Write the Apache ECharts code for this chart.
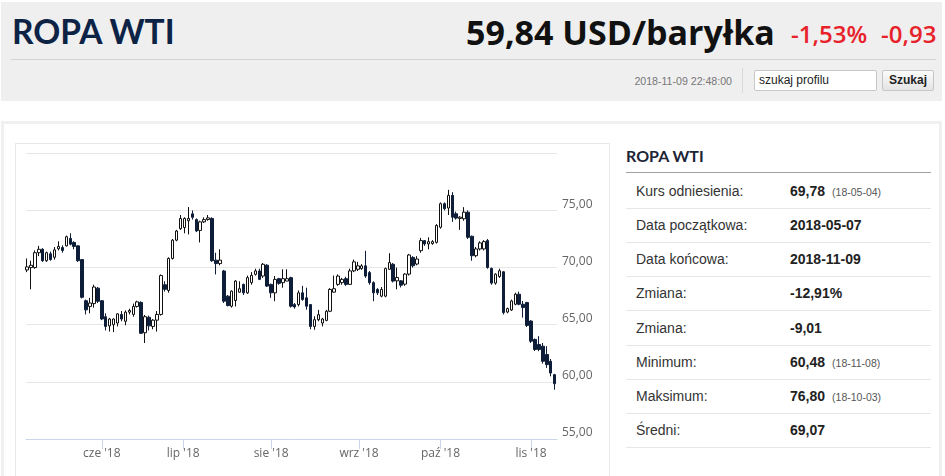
<!DOCTYPE html>
<html><head><meta charset="utf-8">
<script src="https://cdn.jsdelivr.net/npm/echarts@6/dist/echarts.min.js"></script>
<style>
html,body{margin:0;padding:0;background:#fff;width:945px;height:476px;overflow:hidden;position:relative;}
.abs{position:absolute;white-space:nowrap;}
#hdr{left:1px;top:2px;width:941px;height:99px;background:#efefef;}
#title{left:12px;top:14px;font:700 33.5px/34px Lato;color:#0d2345;}
#price{left:466px;top:15px;font:700 34px/34px 'Open Sans';color:#111;}
.red{top:22px;font:600 24px/24px 'Open Sans';color:#e8222b;}
#hline{left:11px;top:59px;width:925px;height:1px;background:#d3d3d3;}
#date{right:213px;top:74px;font:10.6px/14px 'Liberation Sans',Arial;color:#777;}
#vsep{left:742px;top:68px;width:1px;height:25px;background:#d8d8d8;}
#search{left:754px;top:70px;width:123px;height:21px;box-sizing:border-box;border:1px solid #c8c8c8;border-radius:2px;background:#fff;font:12px/19px 'Liberation Sans',Arial;color:#222;padding-left:4px;}
#btn{left:882px;top:70px;width:52px;height:21px;box-sizing:border-box;border:1px solid #c6c6c6;border-radius:2px;background:linear-gradient(#fbfbfb,#e4e4e4);font:700 12px/19px 'Liberation Sans',Arial;color:#222;text-align:center;}
#panel{left:1px;top:121px;width:941px;height:370px;box-sizing:border-box;border:3px solid #f0f0f0;background:#fff;}
#cbox{left:15px;top:143px;width:595px;height:350px;box-sizing:border-box;border:1px solid #e8e8e8;}
#chart{left:16px;top:144px;width:593px;height:332px;}
#ttitle{left:626px;top:148px;font:700 16px/16px Lato;color:#1c2436;}
#tline{left:626px;top:172px;width:305px;height:1px;background:#a0a0a0;}
.row{left:626px;width:305px;height:34px;border-bottom:1px solid #e6e6e6;font:14px/34px 'Liberation Sans',Arial;color:#333;}
.row .lab{position:absolute;left:10px;}
.row .val{position:absolute;left:164px;font-weight:700;color:#222;}
.row .note{font-weight:400;font-size:10.5px;color:#555;margin-left:7px;}
</style></head>
<body>
<div id="hdr" class="abs"></div>
<div id="title" class="abs">ROPA WTI</div>
<div id="price" class="abs">59,84 USD/baryłka</div>
<div class="abs red" style="left:791px">-1,53%</div>
<div class="abs red" style="left:881px">-0,93</div>
<div id="hline" class="abs"></div>
<div id="date" class="abs">2018-11-09 22:48:00</div>
<div id="vsep" class="abs"></div>
<div id="search" class="abs">szukaj profilu</div>
<div id="btn" class="abs">Szukaj</div>
<div id="panel" class="abs"></div>
<div id="cbox" class="abs"></div>
<div id="chart" class="abs"></div>
<div id="ttitle" class="abs">ROPA WTI</div>
<div id="tline" class="abs"></div>
<div id="rows"></div>
<script>
// ---- data ----
const dates = [
'2018-05-07','2018-05-08','2018-05-09','2018-05-10','2018-05-11','2018-05-14','2018-05-15','2018-05-16','2018-05-17','2018-05-18',
'2018-05-21','2018-05-22','2018-05-23','2018-05-24','2018-05-25','2018-05-28','2018-05-29','2018-05-30','2018-05-31',
'2018-06-01','2018-06-04','2018-06-05','2018-06-06','2018-06-07','2018-06-08','2018-06-11','2018-06-12','2018-06-13','2018-06-14','2018-06-15',
'2018-06-18','2018-06-19','2018-06-20','2018-06-21','2018-06-22','2018-06-25','2018-06-26','2018-06-27','2018-06-28','2018-06-29',
'2018-07-02','2018-07-03','2018-07-04','2018-07-05','2018-07-06','2018-07-09','2018-07-10','2018-07-11','2018-07-12','2018-07-13',
'2018-07-16','2018-07-17','2018-07-18','2018-07-19','2018-07-20','2018-07-23','2018-07-24','2018-07-25','2018-07-26','2018-07-27','2018-07-30','2018-07-31',
'2018-08-01','2018-08-02','2018-08-03','2018-08-06','2018-08-07','2018-08-08','2018-08-09','2018-08-10','2018-08-13','2018-08-14','2018-08-15','2018-08-16','2018-08-17',
'2018-08-20','2018-08-21','2018-08-22','2018-08-23','2018-08-24','2018-08-27','2018-08-28','2018-08-29','2018-08-30','2018-08-31',
'2018-09-03','2018-09-04','2018-09-05','2018-09-06','2018-09-07','2018-09-10','2018-09-11','2018-09-12','2018-09-13','2018-09-14',
'2018-09-17','2018-09-18','2018-09-19','2018-09-20','2018-09-21','2018-09-24','2018-09-25','2018-09-26','2018-09-27','2018-09-28',
'2018-10-01','2018-10-02','2018-10-03','2018-10-04','2018-10-05','2018-10-08','2018-10-09','2018-10-10','2018-10-11','2018-10-12',
'2018-10-15','2018-10-16','2018-10-17','2018-10-18','2018-10-19','2018-10-22','2018-10-23','2018-10-24','2018-10-25','2018-10-26','2018-10-29','2018-10-30','2018-10-31',
'2018-11-01','2018-11-02','2018-11-05','2018-11-06','2018-11-07','2018-11-08','2018-11-09'];
const open = [69.79,70.00,70.00,71.30,71.60,70.60,71.20,70.90,71.65,71.75,71.90,72.55,72.20,71.90,70.70,67.10,66.60,66.85,68.20,67.10,
65.70,64.90,65.00,65.15,65.90,65.30,66.10,65.90,66.60,66.95,64.30,65.65,64.85,65.40,65.90,68.50,68.00,70.80,72.40,73.40,
73.50,74.10,74.70,74.20,73.25,74.00,74.20,74.30,70.65,70.35,69.70,67.50,66.62,67.12,67.85,68.53,67.79,68.68,69.41,69.71,
69.26,70.21,68.53,67.79,69.03,68.68,68.82,69.12,66.76,66.76,67.79,67.35,66.76,64.85,65.44,65.15,65.38,66.18,67.85,68.53,
68.68,69.03,68.53,69.71,69.85,69.91,70.15,69.56,68.68,68.09,67.50,67.50,69.85,70.29,68.84,68.84,68.55,69.43,70.89,70.31,
71.48,72.36,72.07,72.10,72.21,73.53,75.59,75.21,76.32,74.71,74.30,74.27,74.85,72.74,71.04,71.63,71.63,72.36,69.93,68.64,
69.22,69.63,66.11,66.29,66.79,67.67,66.79,66.94,65.32,63.71,63.27,63.12,62.39,61.80,60.63];
const close = [70.06,70.20,71.30,71.60,70.60,71.30,70.70,71.55,71.85,71.50,72.70,72.05,71.85,70.60,67.40,66.30,66.90,68.30,67.05,65.50,
64.85,65.50,65.50,65.95,65.50,66.10,66.25,66.60,67.00,64.25,65.70,64.90,65.40,65.90,69.30,68.10,70.80,72.40,73.20,74.30,
74.30,74.30,74.40,73.20,74.00,74.20,74.35,70.60,70.35,70.65,67.06,66.68,67.94,68.82,68.15,67.79,69.12,69.32,69.71,68.97,
70.29,68.38,67.79,68.97,68.62,69.03,69.03,66.62,66.56,67.79,67.21,66.62,64.85,65.44,65.88,65.50,66.18,68.09,68.15,69.26,
68.97,68.53,69.71,70.50,70.15,70.15,69.26,68.68,67.79,67.79,68.09,69.91,70.44,68.82,69.13,68.46,69.43,71.10,70.16,70.75,
72.36,72.07,72.27,72.27,73.68,75.59,75.15,76.32,74.41,74.33,74.41,74.85,72.65,71.04,71.63,72.16,72.27,70.01,68.64,69.43,
69.72,66.06,66.41,67.08,67.67,66.79,66.50,64.94,63.56,62.83,62.83,61.80,61.51,60.77,59.84];
const low = [69.60,68.10,69.90,71.00,70.50,70.50,70.60,70.70,71.50,71.30,71.85,71.95,71.60,70.50,67.30,65.90,66.00,66.50,66.90,65.40,
64.50,64.40,64.35,64.85,65.30,64.95,65.90,65.70,66.50,64.20,63.40,64.50,64.60,64.40,65.80,67.90,67.80,70.70,72.30,73.30,
73.00,72.90,74.20,73.10,72.20,73.90,74.10,70.50,69.40,70.20,66.90,66.60,66.50,66.60,67.80,67.60,67.70,68.50,69.30,68.90,
69.10,68.30,67.35,67.06,68.50,68.24,68.82,66.50,66.40,66.60,67.10,66.32,64.60,64.56,65.30,64.85,65.30,66.10,67.80,68.40,
68.50,68.40,68.50,69.60,69.70,69.80,69.10,68.50,67.06,67.60,67.40,67.40,69.80,68.70,68.10,68.26,68.40,69.30,70.00,70.20,
71.30,71.90,71.60,72.00,72.10,73.40,75.00,74.60,74.00,74.20,73.30,74.10,72.50,70.60,70.90,71.50,71.50,69.90,68.50,68.50,
69.10,65.90,66.00,66.20,66.70,66.70,65.62,64.80,63.40,62.70,62.68,61.60,61.22,60.48,59.31];
const high = [70.80,70.60,71.50,71.90,71.70,71.40,71.40,71.80,72.30,71.95,72.80,73.00,72.30,71.95,70.75,67.20,67.35,68.50,68.30,67.15,
66.00,65.60,65.55,66.00,66.20,66.25,66.40,66.85,67.10,67.05,65.85,65.80,65.50,66.20,69.40,68.80,70.90,72.50,73.30,74.60,
74.40,75.30,75.00,74.30,74.10,74.40,74.60,74.40,71.30,71.60,69.80,67.60,68.00,68.90,68.80,68.60,69.30,69.60,69.90,69.90,
70.40,70.30,68.60,69.26,69.10,69.85,69.85,69.20,66.90,68.00,68.40,68.24,66.80,65.74,66.30,65.60,66.30,68.20,69.30,69.40,
69.10,69.20,69.90,70.70,70.50,70.30,71.47,69.70,68.80,68.20,68.30,70.00,71.26,70.40,70.00,68.90,69.50,71.20,71.00,71.00,
72.60,72.40,72.65,72.40,73.80,75.70,75.70,76.80,76.60,74.90,74.50,75.29,75.00,72.80,71.80,72.30,72.40,72.50,70.00,69.50,
69.90,69.70,66.50,67.20,67.80,67.90,67.08,67.00,65.40,63.80,64.00,63.40,63.12,62.00,60.70];
const tickMonths = ['2018-06-01','2018-07-01','2018-08-01','2018-09-01','2018-10-01','2018-11-01'];
const tickLabels = ["cze '18","lip '18","sie '18","wrz '18","paź '18","lis '18"];
const rowLabels = ['Kurs odniesienia:','Data początkowa:','Data końcowa:','Zmiana:','Zmiana:','Minimum:','Maksimum:','Średni:'];
const rowValues = ['69,78','2018-05-07','2018-11-09','-12,91%','-9,01','60,48','76,80','69,07'];
const rowNotes = ['(18-05-04)','','','','','(18-11-08)','(18-10-03)',''];

// ---- table ----
const rowsEl = document.getElementById('rows');
rowLabels.forEach((lab, i) => {
  const d = document.createElement('div');
  d.className = 'abs row';
  d.style.top = (174 + 34.15 * i) + 'px';
  d.innerHTML = '<span class="lab"></span><span class="val"></span>';
  d.querySelector('.lab').textContent = lab;
  const v = d.querySelector('.val');
  v.textContent = rowValues[i];
  if (rowNotes[i]) { const n = document.createElement('span'); n.className = 'note'; n.textContent = rowNotes[i]; v.appendChild(n); }
  rowsEl.appendChild(d);
});

// ---- chart ----
function t(s){ return Date.parse(s + 'T00:00:00Z'); }
const tickPos = tickMonths.map(m => {
  const tm = t(m);
  for (let i = 0; i < dates.length - 1; i++) {
    const a = t(dates[i]), b = t(dates[i + 1]);
    if (tm >= a && tm < b) return i + (tm - a) / (b - a);
  }
  return dates.length - 1;
});
function labelFor(v){
  for (let k = 0; k < tickPos.length; k++) if (Math.abs(tickPos[k] - v) < 1e-6) return tickLabels[k];
  return '';
}
const chart = echarts.init(document.getElementById('chart'));
chart.setOption({
  animation: false,
  grid: { left: 10, top: 9.3, width: 531, height: 285.7 },
  xAxis: {
    type: 'value', min: -0.25, max: 134.6,
    axisLine: { show: true, lineStyle: { color: '#ccd6eb', width: 1 } },
    splitLine: { show: false },
    axisTick: { show: true, customValues: tickPos, length: 10, lineStyle: { color: '#ccd6eb' } },
    axisLabel: { customValues: tickPos, formatter: labelFor, color: '#666', fontFamily: 'Open Sans', fontSize: 12, margin: 9 }
  },
  yAxis: {
    type: 'value', position: 'right', min: 55, max: 80, interval: 5,
    axisLine: { show: false }, axisTick: { show: false },
    splitLine: { lineStyle: { color: '#e6e6e6', width: 1 } },
    axisLabel: { formatter: v => v.toFixed(2).replace('.', ','), color: '#666', fontFamily: 'Open Sans', fontSize: 12, margin: 5, verticalAlign: 'bottom', showMaxLabel: false }
  },
  series: [{
    type: 'candlestick',
    data: dates.map((d, i) => [i, open[i], close[i], low[i], high[i]]),
    barWidth: 3,
    itemStyle: { color: '#ffffff', color0: '#0f1e38', borderColor: '#111111', borderColor0: '#0f1e38', borderWidth: 1 }
  }]
});
</script>
</body></html>
